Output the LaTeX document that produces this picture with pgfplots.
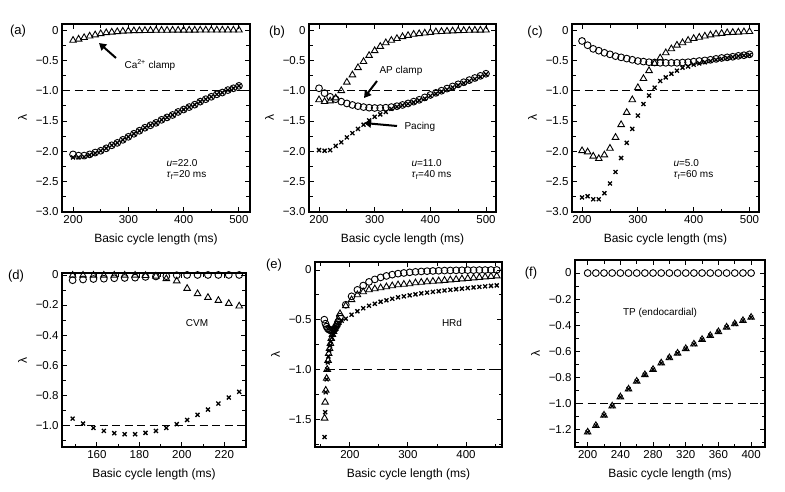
\documentclass[border=0pt]{standalone}
\usepackage{fontspec}
\setmainfont{Liberation Sans}
\usepackage{pgfplots}
\pgfplotsset{compat=1.18}
\usetikzlibrary{arrows.meta}

% y tick labels with a true minus sign, "0" for zero
\newcommand\ylab[1]{\pgfmathparse{#1<-0.0001}\ifdim\pgfmathresult pt>0.5pt −\pgfmathparse{abs(#1)}\pgfmathprintnumber[fixed,fixed zerofill,precision=1]{\pgfmathresult}\else 0\fi}

\pgfplotsset{
  panel/.style={
    scale only axis, anchor=south west,
    axis line style={line width=1.3pt},
    every tick/.style={black, line width=0.9pt},
    major tick length=5pt, minor tick length=3.5pt,
    tick align=inside, xtick pos=both, ytick pos=both,
    xlabel={Basic cycle length (ms)}, ylabel={λ},
    tick label style={font=\fontsize{11.5}{13}\selectfont},
    label style={font=\fontsize{12}{14}\selectfont},
    xlabel style={yshift=-3pt}, ylabel style={yshift=2pt},
    /pgf/number format/assume math mode=true,
    yticklabel={\ylab{\tick}},
    scaled y ticks=false, clip=false,
  },
  circ/.style={only marks, mark=o, mark size=3.4pt, mark options={line width=0.9pt}, black},
  tri/.style={only marks, mark=triangle, mark size=3.8pt, mark options={line width=0.9pt}, black},
  crs/.style={only marks, mark=x, mark size=2.8pt, mark options={line width=1.3pt}, black},
  ref/.style={black, line width=1.2pt, dash pattern=on 8pt off 4.5pt},
}
\newcommand\ann{\fontsize{10}{12}\selectfont}
\newcommand\tag{\fontsize{13}{15}\selectfont}

\begin{document}
\begin{tikzpicture}[x=1pt,y=1pt]
\path[use as bounding box] (0,0) rectangle (785,491);

% ---------------- (a)
\begin{axis}[panel, at={(62pt,279pt)}, width=188pt, height=188pt,
  xmin=180, xmax=520, ymin=-3.0, ymax=0.1,
  xtick={200,300,400,500}, minor xtick={250,350,450},
  ytick={0,-0.5,-1,-1.5,-2,-2.5,-3}, minor ytick={-0.25,-0.75,-1.25,-1.75,-2.25,-2.75}]
\addplot[ref] coordinates {(180,-1) (520,-1)};
\addplot[crs] coordinates {(200,-2.10) (210,-2.10) (220,-2.09) (230,-2.06) (240,-2.03) (250,-1.99)
 (260,-1.95) (270,-1.90) (280,-1.86) (290,-1.81) (300,-1.76) (310,-1.71) (320,-1.66) (330,-1.61)
 (340,-1.57) (350,-1.53) (360,-1.48) (370,-1.44) (380,-1.40) (390,-1.35) (400,-1.31) (410,-1.27)
 (420,-1.23) (430,-1.18) (440,-1.14) (450,-1.10) (460,-1.06) (470,-1.03) (480,-0.99) (490,-0.96) (500,-0.92)};
\addplot[circ] coordinates {(200,-2.05) (210,-2.07) (220,-2.07) (230,-2.05) (240,-2.02) (250,-1.99)
 (260,-1.95) (270,-1.90) (280,-1.86) (290,-1.81) (300,-1.76) (310,-1.71) (320,-1.66) (330,-1.61)
 (340,-1.57) (350,-1.53) (360,-1.48) (370,-1.44) (380,-1.40) (390,-1.35) (400,-1.31) (410,-1.27)
 (420,-1.23) (430,-1.18) (440,-1.14) (450,-1.10) (460,-1.06) (470,-1.03) (480,-0.99) (490,-0.96) (500,-0.92)};
\addplot[tri] coordinates {(200,-0.17) (210,-0.15) (220,-0.125) (230,-0.10) (240,-0.08) (250,-0.06)
 (260,-0.045) (270,-0.035) (280,-0.027) (290,-0.02) (300,-0.015) (310,-0.012) (320,-0.01) (330,-0.008)
 (340,-0.006) (350,-0.005) (360,-0.004) (370,-0.004) (380,-0.003) (390,-0.003) (400,-0.002) (410,-0.002)
 (420,-0.002) (430,-0.001) (440,-0.001) (450,-0.001) (460,0) (470,0) (480,0) (490,0) (500,0)};
\end{axis}
\node[font=\tag] at (18,460) {(a)};
\node[font=\ann, anchor=west] at (121,426) {Ca\textsuperscript{2+} clamp};
\draw[line width=2pt, -{Triangle[length=7pt,width=8pt]}] (116,433) -- (99,448);
\node[font=\ann, anchor=west] at (163,328) {\textit{u}=22.0};
\node[font=\ann, anchor=west] at (163,316) {\textit{τ}\textsubscript{f}=20 ms};

% ---------------- (b)
\begin{axis}[panel, at={(309pt,279pt)}, width=187pt, height=188pt,
  xmin=182, xmax=518, ymin=-3.0, ymax=0.1,
  xtick={200,300,400,500}, minor xtick={250,350,450},
  ytick={0,-0.5,-1,-1.5,-2,-2.5,-3}, minor ytick={-0.25,-0.75,-1.25,-1.75,-2.25,-2.75}]
\addplot[ref] coordinates {(182,-1) (518,-1)};
\addplot[crs] coordinates {(200,-1.98) (210,-1.99) (220,-1.98) (230,-1.91) (240,-1.85) (250,-1.77)
 (260,-1.70) (270,-1.63) (280,-1.56) (290,-1.49) (300,-1.43) (310,-1.39) (320,-1.35) (330,-1.30)
 (340,-1.265) (350,-1.24) (360,-1.215) (370,-1.19) (380,-1.16) (390,-1.13) (400,-1.085) (410,-1.05)
 (420,-1.015) (430,-0.98) (440,-0.945) (450,-0.91) (460,-0.875) (470,-0.84) (480,-0.805) (490,-0.77) (500,-0.73)};
\addplot[circ] coordinates {(200,-0.96) (210,-1.04) (220,-1.10) (230,-1.14) (240,-1.18) (250,-1.21)
 (260,-1.235) (270,-1.255) (280,-1.27) (290,-1.28) (300,-1.285) (310,-1.285) (320,-1.28) (330,-1.27)
 (340,-1.255) (350,-1.235) (360,-1.21) (370,-1.18) (380,-1.15) (390,-1.11) (400,-1.07) (410,-1.035)
 (420,-1.0) (430,-0.965) (440,-0.93) (450,-0.895) (460,-0.86) (470,-0.825) (480,-0.79) (490,-0.755) (500,-0.72)};
\addplot[tri] coordinates {(200,-1.15) (210,-1.18) (220,-1.17) (230,-1.12) (240,-1.0) (250,-0.86)
 (260,-0.74) (270,-0.62) (280,-0.52) (290,-0.42) (300,-0.34) (310,-0.27) (320,-0.21) (330,-0.17)
 (340,-0.14) (350,-0.11) (360,-0.09) (370,-0.07) (380,-0.06) (390,-0.05) (400,-0.04) (410,-0.03)
 (420,-0.025) (430,-0.02) (440,-0.015) (450,-0.01) (460,-0.008) (470,-0.005) (480,-0.003) (490,-0.002) (500,0)};
\end{axis}
\node[font=\tag] at (277,459) {(b)};
\node[font=\ann, anchor=west] at (376,420) {AP clamp};
\draw[line width=2pt, -{Triangle[length=7pt,width=8pt]}] (377,410) -- (364,393);
\node[font=\ann, anchor=west] at (401,364) {Pacing};
\draw[line width=2pt, -{Triangle[length=7pt,width=8pt]}] (397,365) -- (364,368);
\node[font=\ann, anchor=west] at (408,328) {\textit{u}=11.0};
\node[font=\ann, anchor=west] at (408,316) {\textit{τ}\textsubscript{f}=40 ms};

% ---------------- (c)
\begin{axis}[panel, at={(572pt,279pt)}, width=187pt, height=188pt,
  xmin=182, xmax=517, ymin=-3.0, ymax=0.1,
  xtick={200,300,400,500}, minor xtick={250,350,450},
  ytick={0,-0.5,-1,-1.5,-2,-2.5,-3}, minor ytick={-0.25,-0.75,-1.25,-1.75,-2.25,-2.75}]
\addplot[ref] coordinates {(182,-1) (517,-1)};
\addplot[crs] coordinates {(200,-2.76) (210,-2.74) (220,-2.79) (230,-2.79) (240,-2.69) (250,-2.53)
 (260,-2.34) (270,-2.11) (280,-1.86) (290,-1.63) (300,-1.41) (310,-1.22) (320,-1.08) (330,-0.95)
 (340,-0.84) (350,-0.78) (360,-0.72) (370,-0.67) (380,-0.62) (390,-0.60) (400,-0.57) (410,-0.55)
 (420,-0.53) (430,-0.51) (440,-0.49) (450,-0.475) (460,-0.46) (470,-0.445) (480,-0.43) (490,-0.42) (500,-0.41)};
\addplot[circ] coordinates {(200,-0.18) (210,-0.25) (220,-0.31) (230,-0.34) (240,-0.375) (250,-0.40)
 (260,-0.43) (270,-0.45) (280,-0.47) (290,-0.49) (300,-0.51) (310,-0.52) (320,-0.53) (330,-0.535)
 (340,-0.54) (350,-0.54) (360,-0.54) (370,-0.54) (380,-0.535) (390,-0.53) (400,-0.52) (410,-0.51)
 (420,-0.50) (430,-0.49) (440,-0.475) (450,-0.46) (460,-0.45) (470,-0.44) (480,-0.425) (490,-0.415) (500,-0.40)};
\addplot[tri] coordinates {(200,-1.99) (210,-2.01) (220,-2.08) (230,-2.12) (240,-2.06) (250,-1.95)
 (260,-1.77) (270,-1.56) (280,-1.36) (290,-1.15) (300,-0.95) (310,-0.80) (320,-0.67) (330,-0.55)
 (340,-0.46) (350,-0.375) (360,-0.31) (370,-0.25) (380,-0.21) (390,-0.17) (400,-0.14) (410,-0.12)
 (420,-0.10) (430,-0.08) (440,-0.065) (450,-0.055) (460,-0.045) (470,-0.04) (480,-0.035) (490,-0.03) (500,-0.025)};
\end{axis}
\node[font=\tag] at (535,459) {(c)};
\node[font=\ann, anchor=west] at (670,328) {\textit{u}=5.0};
\node[font=\ann, anchor=west] at (670,316) {\textit{τ}\textsubscript{f}=60 ms};

% ---------------- (d)
\begin{axis}[panel, at={(62pt,44pt)}, width=184pt, height=174pt,
  xmin=143.6, xmax=230.2, ymin=-1.145, ymax=0.013,
  xtick={160,180,200,220}, minor xtick={150,170,190,210,230},
  ytick={0,-0.2,-0.4,-0.6,-0.8,-1}, minor ytick={-0.1,-0.3,-0.5,-0.7,-0.9,-1.1}]
\addplot[ref] coordinates {(143.6,-1) (230.2,-1)};
\addplot[crs] coordinates {(148.6,-0.956) (153.5,-0.989) (158.4,-1.018) (163.3,-1.038) (168.2,-1.053)
 (173.1,-1.06) (178,-1.06) (182.9,-1.051) (187.8,-1.038) (192.7,-1.018) (197.6,-0.993) (202.5,-0.965)
 (207.4,-0.931) (212.3,-0.896) (217.2,-0.856) (222.1,-0.816) (227,-0.778)};
\addplot[circ] coordinates {(148.6,-0.035) (153.5,-0.03) (158.4,-0.027) (163.3,-0.025) (168.2,-0.022)
 (173.1,-0.02) (178,-0.018) (182.9,-0.013) (187.8,-0.01) (192.7,-0.008) (197.6,-0.002) (202.5,0)
 (207.4,0) (212.3,0) (217.2,0) (222.1,0) (227,0)};
\addplot[tri] coordinates {(148.6,-0.002) (153.5,-0.002) (158.4,-0.002) (163.3,-0.002) (168.2,-0.002)
 (173.1,-0.002) (178,-0.002) (182.9,-0.004) (187.8,-0.008) (192.7,-0.025) (197.6,-0.04) (202.5,-0.09)
 (207.4,-0.125) (212.3,-0.15) (217.2,-0.17) (222.1,-0.19) (227,-0.207)};
\end{axis}
\node[font=\tag] at (16,215) {(d)};
\node[font=\ann] at (197,168) {CVM};

% ---------------- (e)
\begin{axis}[panel, at={(315pt,44pt)}, width=187pt, height=185pt,
  xmin=140, xmax=462, ymin=-1.78, ymax=0.08,
  xtick={200,300,400}, minor xtick={150,250,350,450},
  ytick={0,-0.5,-1,-1.5}, minor ytick={-0.25,-0.75,-1.25,-1.75}]
\addplot[ref] coordinates {(160,-1) (462,-1)};
\addplot[crs] coordinates {(156.5,-1.68) (157.5,-1.43) (158.5,-1.23) (160,-1.10) (161,-1.0) (162,-0.93)
 (163,-0.87) (164.5,-0.81) (166,-0.76) (167.5,-0.72) (169,-0.68) (171,-0.65) (173,-0.62) (175,-0.60)
 (178,-0.57) (182,-0.53) (186,-0.51)
 (193,-0.49) (203,-0.45) (213,-0.415) (223,-0.385) (233,-0.36) (243,-0.34) (253,-0.32) (263,-0.305)
 (273,-0.29) (283,-0.275) (293,-0.265) (303,-0.255) (313,-0.245) (323,-0.235) (333,-0.228) (343,-0.22)
 (353,-0.213) (363,-0.206) (373,-0.2) (383,-0.194) (393,-0.188) (403,-0.182) (413,-0.176) (423,-0.17)
 (433,-0.165) (443,-0.16) (453,-0.155)};
\addplot[tri] coordinates {(156.5,-1.49) (157.5,-1.33) (158.5,-1.21) (160,-1.09) (161,-1.0) (162.5,-0.91)
 (163.5,-0.84) (165,-0.79) (166.5,-0.74) (168,-0.69) (170,-0.65) (172,-0.62) (174,-0.59) (177,-0.55)
 (180,-0.50) (183,-0.44)
 (193,-0.36) (203,-0.30) (213,-0.25) (223,-0.22) (233,-0.20) (243,-0.19) (253,-0.18) (263,-0.17)
 (273,-0.16) (283,-0.15) (293,-0.145) (303,-0.14) (313,-0.13) (323,-0.125) (333,-0.12) (343,-0.115)
 (353,-0.11) (363,-0.105) (373,-0.10) (383,-0.095) (393,-0.09) (403,-0.085) (413,-0.08) (423,-0.075)
 (433,-0.07) (443,-0.065) (453,-0.06)};
\addplot[circ] coordinates {(156,-0.50) (158,-0.54) (160,-0.57) (162,-0.59) (164,-0.60) (166,-0.605)
 (168,-0.61) (170,-0.605) (172,-0.60) (174,-0.59) (176,-0.57) (178,-0.55) (180,-0.52)
 (183,-0.47) (193,-0.35) (203,-0.265) (213,-0.2) (223,-0.157) (233,-0.12) (243,-0.095) (253,-0.075)
 (263,-0.06) (273,-0.047) (283,-0.037) (293,-0.03) (303,-0.024) (313,-0.019) (323,-0.015) (333,-0.012)
 (343,-0.01) (353,-0.008) (363,-0.006) (373,-0.005) (383,-0.004) (393,-0.003) (403,-0.002) (413,-0.002)
 (423,-0.001) (433,-0.001) (443,0) (453,0)};
\end{axis}
\node[font=\tag] at (274,226) {(e)};
\node[font=\ann] at (452,168) {HRd};

% ---------------- (f)
\begin{axis}[panel, at={(575pt,44pt)}, width=190pt, height=187pt,
  xmin=184.5, xmax=417, ymin=-1.334, ymax=0.1,
  xtick={200,240,280,320,360,400}, minor xtick={220,260,300,340,380},
  ytick={0,-0.2,-0.4,-0.6,-0.8,-1,-1.2}, minor ytick={-0.1,-0.3,-0.5,-0.7,-0.9,-1.1,-1.3}]
\addplot[ref] coordinates {(184.5,-1) (417,-1)};
\addplot[circ] coordinates {(200,0) (210,0) (220,0) (230,0) (240,0) (250,0) (260,0) (270,0) (280,0)
 (290,0) (300,0) (310,0) (320,0) (330,0) (340,0) (350,0) (360,0) (370,0) (380,0) (390,0) (400,0)};
\addplot[tri] coordinates {(200,-1.22) (210,-1.17) (220,-1.09) (230,-1.02) (240,-0.95) (250,-0.89)
 (260,-0.83) (270,-0.78) (280,-0.74) (290,-0.69) (300,-0.65) (310,-0.615) (320,-0.58) (330,-0.545)
 (340,-0.51) (350,-0.48) (360,-0.45) (370,-0.415) (380,-0.39) (390,-0.365) (400,-0.34)};
\addplot[crs] coordinates {(200,-1.22) (210,-1.17) (220,-1.09) (230,-1.02) (240,-0.95) (250,-0.89)
 (260,-0.83) (270,-0.78) (280,-0.74) (290,-0.69) (300,-0.65) (310,-0.615) (320,-0.58) (330,-0.545)
 (340,-0.51) (350,-0.48) (360,-0.45) (370,-0.415) (380,-0.39) (390,-0.365) (400,-0.34)};
\end{axis}
\node[font=\tag] at (531,218) {(f)};
\node[font=\ann] at (660,178) {TP (endocardial)};
\end{tikzpicture}
\end{document}
